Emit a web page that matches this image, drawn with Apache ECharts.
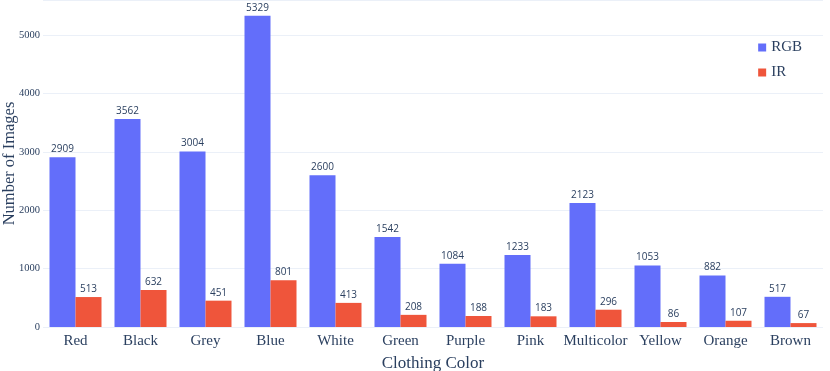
<!DOCTYPE html>
<html>
<head>
<meta charset="utf-8">
<script src="https://cdn.jsdelivr.net/npm/echarts@6/dist/echarts.min.js"></script>
<style>
  html, body { margin: 0; padding: 0; background: #fff; }
</style>
</head>
<body>
<div id="chart" style="width:830px;height:371px;"></div>
<script>
  var colors = ['Red', 'Black', 'Grey', 'Blue', 'White', 'Green', 'Purple', 'Pink', 'Multicolor', 'Yellow', 'Orange', 'Brown'];
  var rgbCounts = [2909, 3562, 3004, 5329, 2600, 1542, 1084, 1233, 2123, 1053, 882, 517];
  var irCounts = [513, 632, 451, 801, 413, 208, 188, 183, 296, 86, 107, 67];

  var chart = echarts.init(document.getElementById('chart'));
  var serif = '"Liberation Serif", "DejaVu Serif", serif';
  var label = {
    show: true,
    position: 'top',
    distance: 3,
    color: '#2a3f5f',
    fontSize: 10,
    fontFamily: '"Open Sans", "Noto Sans", sans-serif'
  };

  var option = {
    animation: false,
    grid: { left: 43, right: 7, top: 0, bottom: 44, containLabel: false, outerBoundsMode: 'none' },
    legend: {
      data: ['RGB', 'IR'],
      orient: 'vertical',
      right: 20,
      top: 38,
      itemWidth: 8,
      itemHeight: 8,
      itemGap: 10,
      icon: 'rect',
      backgroundColor: '#fff',
      padding: [2, 8, 2, 8],
      textStyle: { color: '#2a3f5f', fontSize: 15, fontFamily: serif }
    },
    xAxis: {
      type: 'category',
      data: colors,
      name: 'Clothing Color',
      nameLocation: 'middle',
      nameGap: 28,
      nameMoveOverlap: false,
      nameTextStyle: { color: '#2a3f5f', fontSize: 17, fontFamily: serif },
      axisLine: { show: false },
      axisTick: { show: false },
      axisLabel: { interval: 0, color: '#2a3f5f', fontSize: 15, fontFamily: serif, margin: 7 }
    },
    yAxis: {
      type: 'value',
      min: 0,
      max: 5600,
      interval: 1000,
      name: 'Number of Images',
      nameLocation: 'middle',
      nameGap: 25,
      nameMoveOverlap: false,
      nameTextStyle: { color: '#2a3f5f', fontSize: 16.5, fontFamily: serif },
      axisLabel: {
        color: '#2a3f5f', fontSize: 10.5, fontFamily: serif, margin: 3,
        showMaxLabel: false,
        formatter: function (v) { return String(v); }
      },
      splitLine: { lineStyle: { color: '#EBF0F8', width: 1 } },
      axisLine: { show: false },
      axisTick: { show: false }
    },
    series: [
      {
        name: 'RGB',
        type: 'bar',
        data: rgbCounts,
        barWidth: 26,
        barGap: '0%',
        itemStyle: { color: '#636efa' },
        label: label
      },
      {
        name: 'IR',
        type: 'bar',
        data: irCounts,
        barWidth: 26,
        barGap: '0%',
        itemStyle: { color: '#EF553B' },
        label: label
      }
    ]
  };

  chart.setOption(option);
</script>
</body>
</html>
